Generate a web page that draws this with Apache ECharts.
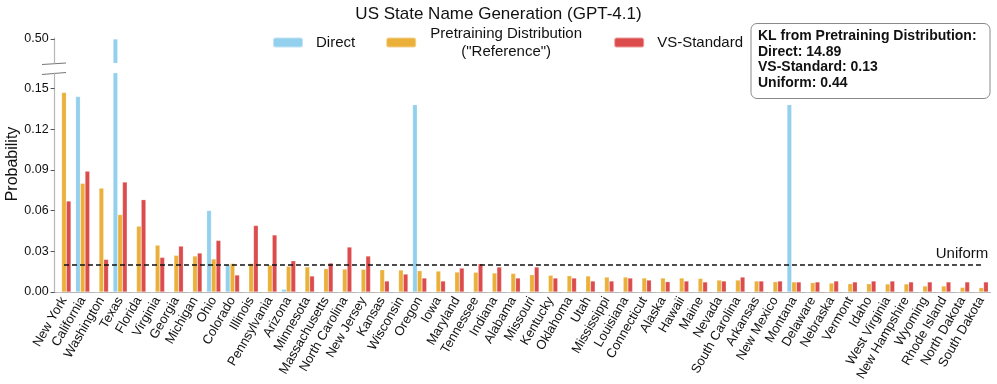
<!DOCTYPE html>
<html>
<head>
<meta charset="utf-8">
<script src="https://cdn.jsdelivr.net/npm/echarts@6/dist/echarts.min.js"></script>
<style>
  html, body { margin: 0; padding: 0; background: #fff; }
  #chart { width: 997px; height: 384px; }
</style>
</head>
<body>
<div id="chart"></div>
<script>
const states = ['New York', 'California', 'Washington', 'Texas', 'Florida', 'Virginia', 'Georgia', 'Michigan',
  'Ohio', 'Colorado', 'Illinois', 'Pennsylvania', 'Arizona', 'Minnesota', 'Massachusetts', 'North Carolina',
  'New Jersey', 'Kansas', 'Wisconsin', 'Oregon', 'Iowa', 'Maryland', 'Tennessee', 'Indiana', 'Alabama',
  'Missouri', 'Kentucky', 'Oklahoma', 'Utah', 'Mississippi', 'Louisiana', 'Connecticut', 'Alaska', 'Hawaii',
  'Maine', 'Nevada', 'South Carolina', 'Arkansas', 'New Mexico', 'Montana', 'Delaware', 'Nebraska', 'Vermont',
  'Idaho', 'West Virginia', 'New Hampshire', 'Wyoming', 'Rhode Island', 'North Dakota', 'South Dakota'];

const direct = [0, 0.144, 0, 0.50, 0, 0, 0, 0, 0.060, 0.020, 0, 0, 0.002, 0, 0, 0, 0, 0, 0, 0.138,
  0, 0, 0, 0, 0, 0, 0, 0, 0, 0, 0, 0, 0, 0, 0, 0, 0, 0, 0, 0.138, 0, 0, 0, 0, 0, 0, 0, 0, 0, 0];

const reference = [0.147, 0.080, 0.0765, 0.057, 0.0485, 0.0345, 0.027, 0.0265, 0.0243, 0.021, 0.021, 0.0198,
  0.019, 0.0185, 0.0172, 0.0169, 0.0167, 0.0164, 0.0162, 0.0157, 0.0154, 0.0147, 0.0145, 0.014, 0.0137,
  0.0127, 0.0123, 0.012, 0.0118, 0.011, 0.011, 0.0103, 0.0103, 0.0103, 0.010, 0.0088, 0.0088, 0.0081,
  0.0076, 0.0074, 0.0069, 0.0066, 0.0061, 0.0061, 0.0059, 0.0059, 0.0044, 0.0044, 0.0034, 0.0032];

const vsStandard = [0.067, 0.089, 0.024, 0.081, 0.068, 0.0255, 0.0338, 0.0287, 0.038, 0.0125, 0.049, 0.042,
  0.023, 0.0118, 0.0213, 0.0331, 0.0265, 0.0081, 0.0132, 0.0103, 0.0081, 0.0176, 0.0208, 0.0184, 0.0103,
  0.0184, 0.0103, 0.0103, 0.0081, 0.0081, 0.0103, 0.0088, 0.0076, 0.0081, 0.0074, 0.0081, 0.011, 0.0081,
  0.0081, 0.0074, 0.0074, 0.0081, 0.0074, 0.0081, 0.0081, 0.0074, 0.0074, 0.0074, 0.0074, 0.0074];

const yTicks = [0, 0.03, 0.06, 0.09, 0.12, 0.15];
const yTopTicks = [0.5];
const uniform = 0.02;
const klLines = ['KL from Pretraining Distribution:', 'Direct: 14.89', 'VS-Standard: 0.13', 'Uniform: 0.44'];

const names = ['Direct', 'Pretraining Distribution ("Reference")', 'VS-Standard'];
const colors = ['#92d0ee', '#ebb03a', '#dc4c4c'];
const font = '"Liberation Sans", Arial, Helvetica, sans-serif';

// broken axis: lower panel up to lowMax, upper panel around 0.50
const lowMax = 0.1613;
const gridLeft = 54.6, gridWidth = 936;

const chart = echarts.init(document.getElementById('chart'), null, { renderer: 'canvas' });

const seriesData = [direct, reference, vsStandard];
const series = [];
seriesData.forEach((arr, i) => {
  const base = {
    name: names[i],
    type: 'bar',
    barWidth: 4.7,
    barGap: '0%',
    itemStyle: { color: colors[i], borderColor: 'rgba(255,255,255,0.45)', borderWidth: 0.5 },
    emphasis: { disabled: true },
    animation: false
  };
  series.push(Object.assign({}, base, { xAxisIndex: 0, yAxisIndex: 0, data: arr }));
  series.push(Object.assign({}, base, {
    xAxisIndex: 1, yAxisIndex: 1,
    data: arr.map(v => (v > lowMax ? v : '-'))
  }));
});

series[2].markLine = {
  silent: true,
  symbol: 'none',
  animation: false,
  lineStyle: { color: '#111', type: [5, 3], width: 1.5 },
  label: {
    show: true, position: 'insideEndTop', formatter: 'Uniform',
    color: '#111', fontSize: 15, fontFamily: font, distance: [-7, 3]
  },
  data: [[{ coord: [0, uniform] }, { coord: [states.length - 1, uniform] }]]
};

const axisGray = '#b5b5b5';

chart.setOption({
  backgroundColor: '#fff',
  title: {
    text: 'US State Name Generation (GPT-4.1)',
    left: 'center', top: 1,
    textStyle: { fontSize: 17, fontWeight: 'normal', color: '#111', fontFamily: font }
  },
  legend: {
    left: 272, top: 26, padding: 0,
    itemWidth: 30, itemHeight: 10, itemGap: 30,
    data: names,
    selectedMode: false,
    textStyle: {
      fontSize: 15, color: '#111', fontFamily: font, padding: [0, 0, 0, 8],
      rich: { c: { fontSize: 15, fontFamily: font, color: '#111', width: 154, align: 'center', lineHeight: 18 } }
    },
    formatter: n => (n === names[1] ? '{c|Pretraining Distribution}\n{c|("Reference")}' : n)
  },
  grid: [
    { left: gridLeft, width: gridWidth, top: 73, height: 219 },
    { left: gridLeft, width: gridWidth, top: 38, height: 25 }
  ],
  xAxis: [
    {
      type: 'category', gridIndex: 0, data: states,
      axisLine: { lineStyle: { color: axisGray, width: 1.2 } },
      axisTick: { alignWithLabel: true, length: 4, lineStyle: { color: '#555' } },
      axisLabel: { rotate: 60, interval: 0, fontSize: 13, color: '#111', fontFamily: font, margin: 6 }
    },
    {
      type: 'category', gridIndex: 1, data: states,
      axisLine: { show: false }, axisTick: { show: false }, axisLabel: { show: false }
    }
  ],
  yAxis: [
    {
      type: 'value', gridIndex: 0, min: 0, max: lowMax,
      splitLine: { show: false },
      axisLine: { show: true, lineStyle: { color: axisGray, width: 1.2 } },
      axisTick: { show: true, length: 4, customValues: yTicks, lineStyle: { color: '#555' } },
      axisLabel: {
        customValues: yTicks, fontSize: 12.5, color: '#111', fontFamily: font, margin: 6,
        formatter: v => v.toFixed(2)
      }
    },
    {
      type: 'value', gridIndex: 1, min: 0.45, max: 0.50208,
      splitLine: { show: false },
      axisLine: { show: true, lineStyle: { color: axisGray, width: 1.2 } },
      axisTick: { show: true, length: 4, customValues: yTopTicks, lineStyle: { color: '#555' } },
      axisLabel: {
        customValues: yTopTicks, fontSize: 12.5, color: '#111', fontFamily: font, margin: 6,
        formatter: v => v.toFixed(2)
      }
    }
  ],
  graphic: [
    {
      type: 'text', rotation: Math.PI / 2,
      x: 12.5, y: 164,
      style: { text: 'Probability', fill: '#111', font: '16px ' + font, textAlign: 'center', textVerticalAlign: 'middle' }
    },
    { type: 'line', shape: { x1: 42, y1: 64.5, x2: 66, y2: 63 }, style: { stroke: '#777', lineWidth: 1.2 } },
    { type: 'line', shape: { x1: 42, y1: 74.5, x2: 66, y2: 72.5 }, style: { stroke: '#777', lineWidth: 1.2 } },
    {
      type: 'rect', shape: { x: 751, y: 23.5, width: 239, height: 75, r: 6 },
      style: { fill: '#fff', stroke: '#8a8a8a', lineWidth: 1 }, z: 10
    },
    {
      type: 'text', x: 758, y: 28.5, z: 11,
      style: { text: klLines.join('\n'), font: 'bold 14px ' + font, fill: '#111', lineHeight: 15.6 }
    }
  ],
  series: series
});
</script>
</body>
</html>
